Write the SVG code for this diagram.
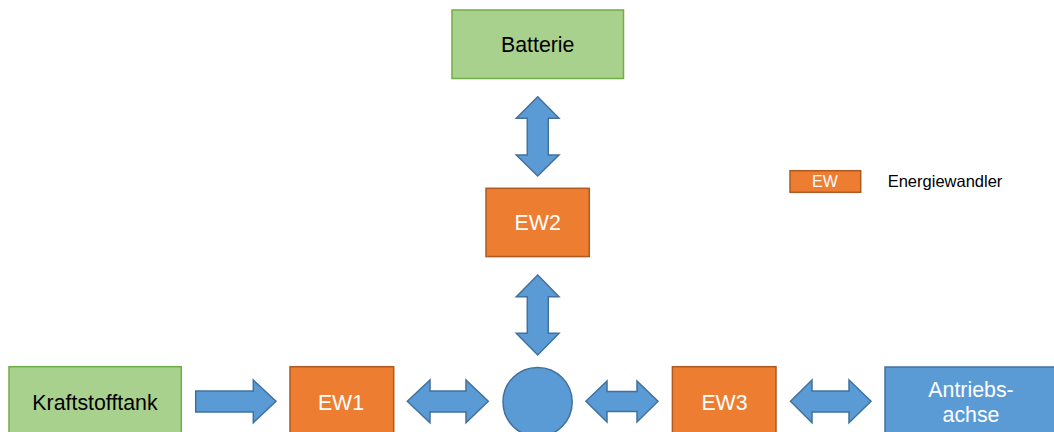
<svg xmlns="http://www.w3.org/2000/svg" width="1054" height="432" viewBox="0 0 1054 432">
  <style>
    .green { fill: #A9D18E; stroke: #70AD47; stroke-width: 1.5; }
    .orange { fill: #ED7D31; stroke: #AE5A21; stroke-width: 1.5; }
    .blue { fill: #5B9BD5; stroke: #41719C; stroke-width: 1.5; }
    .arrow { fill: #5B9BD5; stroke: #41719C; stroke-width: 1.5; stroke-linejoin: miter; }
    .lbl { font-family: "Liberation Sans", Arial, sans-serif; font-size: 21.33px; text-anchor: middle; }
    .dark { fill: #000000; }
    .light { fill: #FFFFFF; }
  </style>
  <rect width="1054" height="432" fill="#FFFFFF"/>

  <g id="connectors">
    <path class="arrow" d="M537.7,96.7 L559,118.3 H548.3 V155 H559 L537.7,176 L516.3,155 H527.3 V118.3 H516.3 Z"/>
    <path class="arrow" d="M537.7,275 L559,296.7 H548.3 V333.3 H559 L537.7,355 L516.3,333.3 H527.3 V296.7 H516.3 Z"/>
    <path class="arrow" d="M195.7,391 H253.3 V380 L276,401.3 L253.3,422.7 V412 H195.7 Z"/>
    <path class="arrow" d="M407.3,401.3 L430,380 V391 H466 V380 L488.3,401.3 L466,422.7 V412 H430 V422.7 Z"/>
    <path class="arrow" d="M585.9,401.3 L607,381 V391.5 H637 V381 L658,401.3 L637,422 V411.5 H607 V422 Z"/>
    <path class="arrow" d="M790.5,401.3 L812,380 V391 H849 V380 L871,401.3 L849,422.7 V412 H812 V422.7 Z"/>
  </g>

  <g id="batterie">
    <rect class="green" x="452" y="10" width="171.5" height="68.5"/>
    <text class="lbl dark" x="537.7" y="52">Batterie</text>
  </g>

  <g id="ew2">
    <rect class="orange" x="486" y="188.3" width="103.3" height="68.3"/>
    <text class="lbl light" x="537.7" y="229.5">EW2</text>
  </g>

  <g id="kraftstofftank">
    <rect class="green" x="9" y="366.7" width="172.3" height="68.5"/>
    <text class="lbl dark" x="95" y="409.5">Kraftstofftank</text>
  </g>

  <g id="ew1">
    <rect class="orange" x="290" y="366.7" width="103.7" height="68.5"/>
    <text class="lbl light" x="341" y="409.5">EW1</text>
  </g>

  <g id="knoten">
    <circle class="blue" cx="537.6" cy="402" r="34.6"/>
  </g>

  <g id="ew3">
    <rect class="orange" x="672.4" y="366.7" width="103.6" height="68.5"/>
    <text class="lbl light" x="724.5" y="409.5">EW3</text>
  </g>

  <g id="antriebsachse">
    <rect class="blue" x="885" y="367" width="172" height="68.5"/>
    <text class="lbl light" x="971" y="396.5">Antriebs-</text>
    <text class="lbl light" x="971" y="421.5">achse</text>
  </g>

  <g id="legende">
    <rect class="orange" x="790" y="170.7" width="70.7" height="21.6"/>
    <text x="825" y="187.3" font-family="Liberation Sans, Arial, sans-serif" font-size="16" text-anchor="middle" fill="#FFFFFF">EW</text>
    <text x="887.7" y="187.3" font-family="Liberation Sans, Arial, sans-serif" font-size="16.5" fill="#000000">Energiewandler</text>
  </g>
</svg>
